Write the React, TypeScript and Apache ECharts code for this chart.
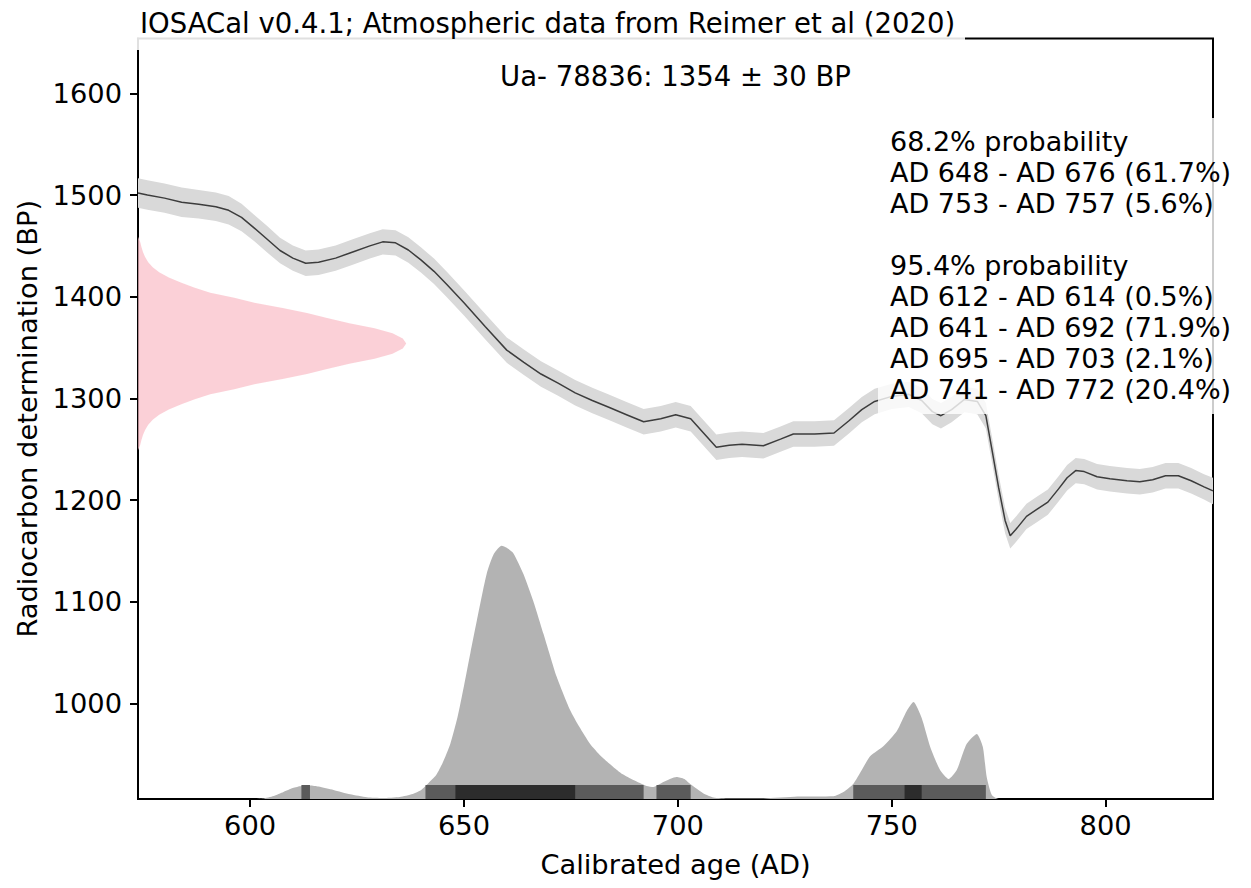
import React, { useEffect, useRef } from "react";
import * as echarts from "echarts";

const titleText = "IOSACal v0.4.1; Atmospheric data from Reimer et al (2020)";
const labCode = "Ua- 78836";
const dateBP = 1354;
const dateErr = 30;

const xTicks = [600, 650, 700, 750, 800];
const yTicks = [1000, 1100, 1200, 1300, 1400, 1500, 1600];
const xRange = [573.8, 825.1];
const yRange = [906, 1654];

// calibration curve (IntCal20)
const curveYears = [573.8, 576, 580, 584, 588, 592, 595, 598, 601, 604, 607, 610, 613, 616, 620, 624, 628, 631, 634, 637, 640, 643, 646, 650, 655, 660, 664, 668, 672, 676, 680, 684, 688, 692, 696, 699.5, 703, 706, 709, 712, 715, 720, 724, 727, 732, 736.5, 740, 743, 746, 750, 754, 757, 759.5, 761.5, 764, 767, 770, 772, 773.5, 775, 776.5, 777.7, 779, 781.5, 784, 786.5, 789, 791, 793, 795, 798, 801, 805, 808, 811, 814, 817, 820, 823, 825.1];
const curveBP = [1502, 1500, 1497, 1493, 1491, 1488.5, 1485, 1478, 1467.5, 1456.5, 1445.5, 1438, 1433, 1434, 1438, 1444, 1450, 1454, 1453, 1446, 1436, 1425, 1412, 1394, 1370.5, 1347.5, 1335.5, 1324, 1315, 1305.5, 1298, 1291, 1284, 1277, 1280, 1284, 1280, 1266, 1252, 1254, 1255, 1253.5, 1260, 1265, 1265, 1266, 1278, 1289, 1297, 1302, 1304, 1298, 1287, 1283, 1289, 1299, 1297, 1283, 1248, 1212, 1180, 1165, 1171, 1184, 1191, 1198, 1211, 1222, 1229, 1228, 1223, 1221, 1219, 1218, 1220, 1224, 1224, 1219, 1213, 1209];
const curveSigma = [14.5, 14.5, 14.5, 14.5, 14, 14, 14, 13.5, 13, 13, 12.5, 12.5, 12.5, 12.5, 12.5, 12.5, 12.5, 12.5, 12.5, 12.5, 12.5, 12.5, 12.5, 12.5, 12.5, 12.5, 12.5, 12.5, 12.5, 12.5, 12.5, 12.5, 12.5, 12.5, 12.5, 12.5, 12.5, 12.5, 12.5, 12.5, 12.5, 12.5, 12.5, 12.5, 12.5, 12.5, 12.5, 12.5, 12.5, 12.5, 12.5, 12.5, 12.5, 12.5, 12.5, 12.5, 12.5, 12.5, 12.5, 12.5, 12.5, 12.5, 12.5, 12.5, 12.5, 12.5, 12.5, 12.5, 12.5, 12.5, 12.5, 12.5, 12.5, 12.5, 12.5, 12.5, 12.5, 12.5, 12.5, 13];

// radiocarbon date distribution (pink), BP offsets from the date and width in years
const pinkOffsets = [105, 100, 95, 90, 85, 80, 75, 70, 65, 60, 55, 50, 45, 40, 35, 30, 25, 20, 15, 10, 5, 0, -5, -10, -15, -20, -25, -30, -35, -40, -45, -50, -55, -60, -65, -70, -75, -80, -85, -90, -95, -100, -105];
const pinkWidths = [0, 0.5, 0.8, 1.16, 1.66, 2.39, 3.44, 4.95, 7.2, 10, 13.1, 16.9, 22.5, 27.2, 33.8, 39.5, 44.2, 49.4, 55.3, 59.5, 61.9, 62.7, 61.9, 59.5, 55.3, 49.4, 44.2, 39.5, 33.8, 27.2, 22.5, 16.9, 13.1, 10, 7.2, 4.95, 3.44, 2.39, 1.66, 1.16, 0.8, 0.5, 0];

// calibrated probability (height above the axis bottom, in BP units)
const calYears = [573.8, 600, 603, 605.5, 607.8, 610, 612, 614, 616, 619.5, 623.4, 627.3, 631, 635, 638, 640, 641.5, 643.5, 645, 646.8, 648.5, 650, 651.5, 653, 655.3, 657, 658.8, 660, 661.5, 663.9, 666.2, 668.6, 671.7, 674.8, 677, 679.5, 682, 684.9, 687, 689.6, 692.7, 694.3, 696.6, 699.7, 701.5, 702.9, 704.5, 706, 708.3, 712, 720, 728, 736.4, 738.7, 741, 743, 745, 748.1, 751.2, 753.5, 755.1, 757, 759, 761.3, 763.3, 765.2, 767.5, 769.9, 771.3, 772.2, 773.4, 775, 825.1];
const calDensity = [0, 0, 0.5, 3, 6.9, 10.8, 12.8, 13.3, 12.3, 8.9, 4.6, 1.7, 1, 2, 4.9, 8.9, 14.8, 23.6, 35.4, 54.1, 80.7, 111.2, 143.7, 175.2, 221.4, 241.1, 249, 247, 242, 221.4, 194.8, 162.4, 120, 87.6, 70.8, 54.1, 42.3, 31.5, 24.6, 18.7, 12.8, 11.8, 16.7, 21.6, 19.7, 14.8, 9.8, 5.4, 1.5, 0.5, 0.6, 2.5, 2.8, 6.9, 14.8, 28.5, 42.3, 52.2, 66.9, 86.6, 95.4, 79.7, 51.2, 28.5, 19.7, 28.5, 54.1, 64, 51.2, 21.6, 3.9, 0, 0];

// [start AD, end AD, percent]
const intervals68 = [[648, 676, 61.7], [753, 757, 5.6]];
const intervals95 = [[612, 614, 0.5], [641, 692, 71.9], [695, 703, 2.1], [741, 772, 20.4]];

const FONT = "'DejaVu Sans', 'Liberation Sans', sans-serif";
const FS = 27.3;
const BAR_H = 13.8;

export default function App() {
  const ref = useRef<HTMLDivElement>(null);

  useEffect(() => {
    if (!ref.current) return;
    const chart = echarts.init(ref.current, null, { renderer: "svg" });

    const fmt = (d: number[]) => `AD ${d[0]} - AD ${d[1]} (${d[2]}%)`;
    const boxLines = [
      "68.2% probability",
      ...intervals68.map(fmt),
      "",
      "95.4% probability",
      ...intervals95.map(fmt),
    ].join("\n");

    const bandSeries = {
      type: "custom",
      z: 2,
      silent: true,
      data: [[curveYears[0], curveBP[0]]],
      renderItem: (_p: any, api: any) => {
        const up = curveYears.map((x, i) => api.coord([x, curveBP[i] + curveSigma[i]]));
        const lo = curveYears.map((x, i) => api.coord([x, curveBP[i] - curveSigma[i]])).reverse();
        return { type: "polygon", shape: { points: up.concat(lo) }, style: { fill: "#d9d9d9" } };
      },
    };

    const pinkSeries = {
      type: "custom",
      z: 4,
      silent: true,
      data: [[xRange[0], dateBP]],
      renderItem: (_p: any, api: any) => {
        const pts = pinkOffsets.map((o, i) => api.coord([xRange[0] + pinkWidths[i], dateBP + o]));
        return { type: "polygon", shape: { points: pts }, style: { fill: "rgba(250,190,200,0.72)" } };
      },
    };

    const barSeries = (list: number[][], color: string, z: number) => ({
      type: "custom",
      z,
      silent: true,
      encode: { x: [0, 1], y: 2 },
      data: list.map((d) => [d[0], d[1], yRange[0]]),
      renderItem: (_p: any, api: any) => {
        const a = api.coord([api.value(0), yRange[0] + BAR_H]);
        const b = api.coord([api.value(1), yRange[0]]);
        return {
          type: "rect",
          shape: { x: a[0], y: a[1], width: b[0] - a[0], height: b[1] - a[1] },
          style: { fill: color },
        };
      },
    });

    const plain = (v: number) => String(v);

    const option: any = {
      animation: false,
      backgroundColor: "#ffffff",
      grid: {
        left: 138,
        right: 38,
        top: 38.5,
        bottom: 89,
        show: true,
        borderColor: "#000",
        borderWidth: 2,
        backgroundColor: "transparent",
      },
      xAxis: {
        type: "value",
        min: xRange[0],
        max: xRange[1],
        name: "Calibrated age (AD)",
        nameLocation: "middle",
        nameGap: 52,
        nameTextStyle: { fontSize: FS, color: "#000", fontFamily: FONT },
        axisLine: { show: true, onZero: false, lineStyle: { color: "#000", width: 2 } },
        axisTick: { show: true, length: 8, lineStyle: { color: "#000", width: 2 }, customValues: xTicks },
        axisLabel: { customValues: xTicks, formatter: plain, fontSize: FS, color: "#000", fontFamily: FONT, margin: 13 },
        splitLine: { show: false },
      },
      yAxis: {
        type: "value",
        min: yRange[0],
        max: yRange[1],
        name: "Radiocarbon determination (BP)",
        nameLocation: "middle",
        nameRotate: 90,
        nameGap: 97,
        nameTextStyle: { fontSize: FS, color: "#000", fontFamily: FONT },
        axisLine: { show: true, onZero: false, lineStyle: { color: "#000", width: 2 } },
        axisTick: { show: true, length: 8, lineStyle: { color: "#000", width: 2 }, customValues: yTicks },
        axisLabel: { customValues: yTicks, formatter: plain, fontSize: FS, color: "#000", fontFamily: FONT, margin: 16 },
        splitLine: { show: false },
      },
      series: [
        bandSeries,
        {
          type: "line",
          z: 3,
          silent: true,
          showSymbol: false,
          symbol: "none",
          data: curveYears.map((x, i) => [x, curveBP[i]]),
          lineStyle: { color: "#3c3c3c", width: 1.5 },
        },
        pinkSeries,
        {
          type: "line",
          z: 4,
          silent: true,
          symbol: "none",
          smooth: 0.2,
          data: calYears.map((x, i) => [x, yRange[0] + calDensity[i]]),
          lineStyle: { width: 0, opacity: 0 },
          areaStyle: { color: "#b3b3b3", opacity: 1, origin: "start" },
        },
        barSeries(intervals95, "#5b5b5b", 5),
        barSeries(intervals68, "#2c2c2c", 6),
      ],
      graphic: [
        {
          type: "rect",
          z: 100,
          silent: true,
          shape: { x: 125, y: 0, width: 840, height: 50 },
          style: { fill: "rgba(255,255,255,0.88)" },
        },
        {
          type: "text",
          z: 101,
          silent: true,
          x: 140,
          y: 23,
          style: { text: titleText, fontSize: 27.5, fontFamily: FONT, fill: "#000", align: "left", verticalAlign: "middle" },
        },
        {
          type: "text",
          z: 101,
          silent: true,
          x: 675.5,
          y: 76,
          style: {
            text: `${labCode}: ${dateBP} ± ${dateErr} BP`,
            fontSize: 27.5,
            fontFamily: FONT,
            fill: "#000",
            align: "center",
            verticalAlign: "middle",
          },
        },
        {
          type: "rect",
          z: 100,
          silent: true,
          shape: { x: 878, y: 118, width: 362, height: 296 },
          style: { fill: "rgba(255,255,255,0.8)" },
        },
        {
          type: "text",
          z: 101,
          silent: true,
          x: 890,
          y: 126,
          style: {
            text: boxLines,
            fontSize: 27,
            lineHeight: 31,
            fontFamily: FONT,
            fill: "#000",
            align: "left",
            verticalAlign: "top",
          },
        },
      ],
    };

    chart.setOption(option);
    return () => chart.dispose();
  }, []);

  return (
    <div
      ref={ref}
      style={{ position: "fixed", left: 0, top: 0, width: 1251, height: 888, background: "#fff" }}
    />
  );
}
